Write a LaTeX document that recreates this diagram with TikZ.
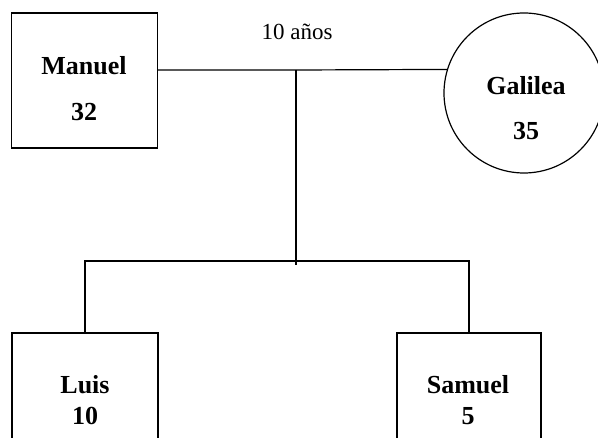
\documentclass[tikz,border=0pt]{standalone}
\usepackage{fontspec}
\setmainfont{Liberation Serif}
\begin{document}
\begin{tikzpicture}[x=1pt, y=-1pt, line width=1.2pt]
    \tikzset{caja/.style={draw, rectangle, inner sep=0pt, minimum width=146pt, minimum height=135pt},
             nombre/.style={font=\fontsize{26}{30}\selectfont\bfseries},
             nota/.style={font=\fontsize{23}{27}\selectfont}}
    \clip (0, 0) rectangle (598, 438);

    \node[caja] (manuel) at (84.5, 80.5) {};
    \node[draw, circle, inner sep=0pt, minimum size=160pt] (galilea) at (524, 93) {};
    \node[caja, minimum height=130pt] (luis) at (85, 398) {};
    \node[caja, minimum width=144pt, minimum height=130pt] (samuel) at (469, 398) {};

    \node[nombre] (manuelnom) at (84, 66) {Manuel};
    \node[nombre] (manueledad) at (84, 112) {32};
    \node[nombre] (galileanom) at (526, 86) {Galilea};
    \node[nombre] (galileaedad) at (526, 131) {35};
    \node[nombre] (luisnom) at (85, 385) {Luis};
    \node[nombre] (luisedad) at (85, 416) {10};
    \node[nombre] (samuelnom) at (468, 385) {Samuel};
    \node[nombre] (samueledad) at (468, 416) {5};
    \node[nota] (anos) at (297, 32) {10 años};

    \coordinate (union) at (296, 70);
    \coordinate (hijos) at (296, 265);
    \coordinate (izq) at (85, 261);
    \coordinate (der) at (469, 261);

    \draw (manuel.east |- union) -- (union) -- (galilea.163);
    \draw (union) -- (hijos);
    \draw (luis.north) -- (izq) -- (der) -- (samuel.north);

\end{tikzpicture}
\end{document}
